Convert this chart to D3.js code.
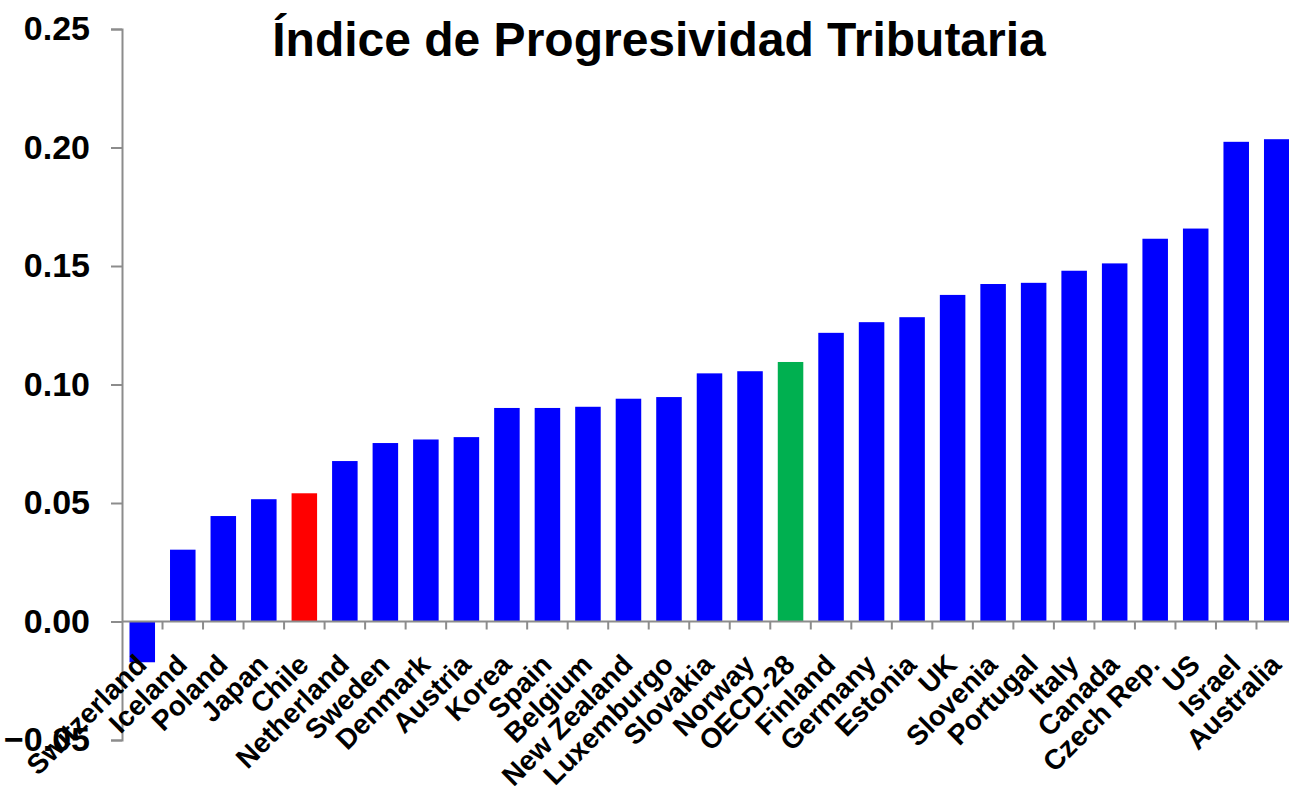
<!DOCTYPE html>
<html>
<head>
<meta charset="utf-8">
<script src="https://cdn.jsdelivr.net/npm/d3@7"></script>
<style>
  body { margin: 0; background: #fff; }
  text { font-family: "Liberation Sans", Arial, sans-serif; font-weight: bold; fill: #000; }
</style>
</head>
<body>
<div id="chart"></div>
<script>
var countries = ["Switzerland", "Iceland", "Poland", "Japan", "Chile", "Netherland", "Sweden",
    "Denmark", "Austria", "Korea", "Spain", "Belgium", "New Zealand", "Luxemburgo", "Slovakia",
    "Norway", "OECD-28", "Finland", "Germany", "Estonia", "UK", "Slovenia", "Portugal", "Italy",
    "Canada", "Czech Rep.", "US", "Israel", "Australia"];
var values = [-0.0172, 0.0303, 0.0445, 0.0516, 0.0541, 0.0677, 0.0753,
    0.0768, 0.0778, 0.0901, 0.0901, 0.0906, 0.0940, 0.0947, 0.1047,
    0.1056, 0.1095, 0.1218, 0.1263, 0.1284, 0.1378, 0.1424, 0.1429, 0.1480,
    0.1511, 0.1615, 0.1658, 0.2024, 0.2035];
var yTicks = [-0.05, 0, 0.05, 0.10, 0.15, 0.20, 0.25];
var highlight = {"Chile": "#ff0000", "OECD-28": "#00b050"};

var data = countries.map(function(c, i) { return {name: c, value: values[i]}; });

var imgWidth = 1289,
    imgHeight = 786;
var margin = {top: 29, right: -8, bottom: 46, left: 122},
    width = imgWidth - margin.left - margin.right,
    height = imgHeight - margin.top - margin.bottom;

var svg = d3.select("#chart").append("svg")
    .attr("width", imgWidth)
    .attr("height", imgHeight);
var g = svg.append("g")
    .attr("transform", "translate(" + margin.left + "," + margin.top + ")");

var x = d3.scaleBand()
    .domain(countries)
    .range([0, width])
    .paddingInner(0.37)
    .paddingOuter(0.185);
var y = d3.scaleLinear()
    .domain([-0.05, 0.25])
    .range([711, 0]);

// bars
g.selectAll(".bar")
    .data(data)
    .enter().append("rect")
    .attr("class", "bar")
    .attr("fill", function(d) { return highlight[d.name] || "#0000ff"; })
    .attr("x", function(d) { return x(d.name); })
    .attr("y", function(d) { return y(Math.max(0, d.value)); })
    .attr("width", x.bandwidth())
    .attr("height", function(d) { return Math.abs(y(d.value) - y(0)); });

// y axis
var yAxis = g.append("g")
    .attr("class", "axis axis--y")
    .call(d3.axisLeft(y).tickValues(yTicks).tickSize(11).tickPadding(21)
        .tickFormat(d3.format(".2f")));
yAxis.select(".domain").attr("stroke", "#8c8c8c").attr("stroke-width", 2);
yAxis.selectAll(".tick line").attr("stroke", "#8c8c8c").attr("stroke-width", 2);
yAxis.selectAll(".tick text")
    .attr("font-size", 34)
    .attr("font-family", "Liberation Sans, Arial, sans-serif")
    .attr("font-weight", "bold")
    .attr("fill", "#000");

// x axis along zero, ticks between categories
var xAxis = g.append("g")
    .attr("class", "axis axis--x")
    .attr("transform", "translate(0," + y(0) + ")");
xAxis.append("line")
    .attr("x1", 0).attr("x2", width)
    .attr("stroke", "#8c8c8c").attr("stroke-width", 2);
xAxis.selectAll(".sep")
    .data(countries.slice(1))
    .enter().append("line")
    .attr("class", "sep")
    .attr("x1", function(d) { return x(d) - x.step() * x.paddingInner() / 2; })
    .attr("x2", function(d) { return x(d) - x.step() * x.paddingInner() / 2; })
    .attr("y1", 0).attr("y2", 8)
    .attr("stroke", "#8c8c8c").attr("stroke-width", 2);

// rotated category labels
xAxis.selectAll(".lbl")
    .data(countries)
    .enter().append("text")
    .attr("class", "lbl")
    .attr("text-anchor", "end")
    .attr("font-size", 28)
    .attr("transform", function(d) {
        return "translate(" + (x(d) + x.bandwidth() / 2 + 6) + ",45) rotate(-45)";
    })
    .text(function(d) { return d; });

// title
svg.append("text")
    .attr("x", 659)
    .attr("y", 56)
    .attr("text-anchor", "middle")
    .attr("font-size", 48)
    .text("Índice de Progresividad Tributaria");
</script>
</body>
</html>
